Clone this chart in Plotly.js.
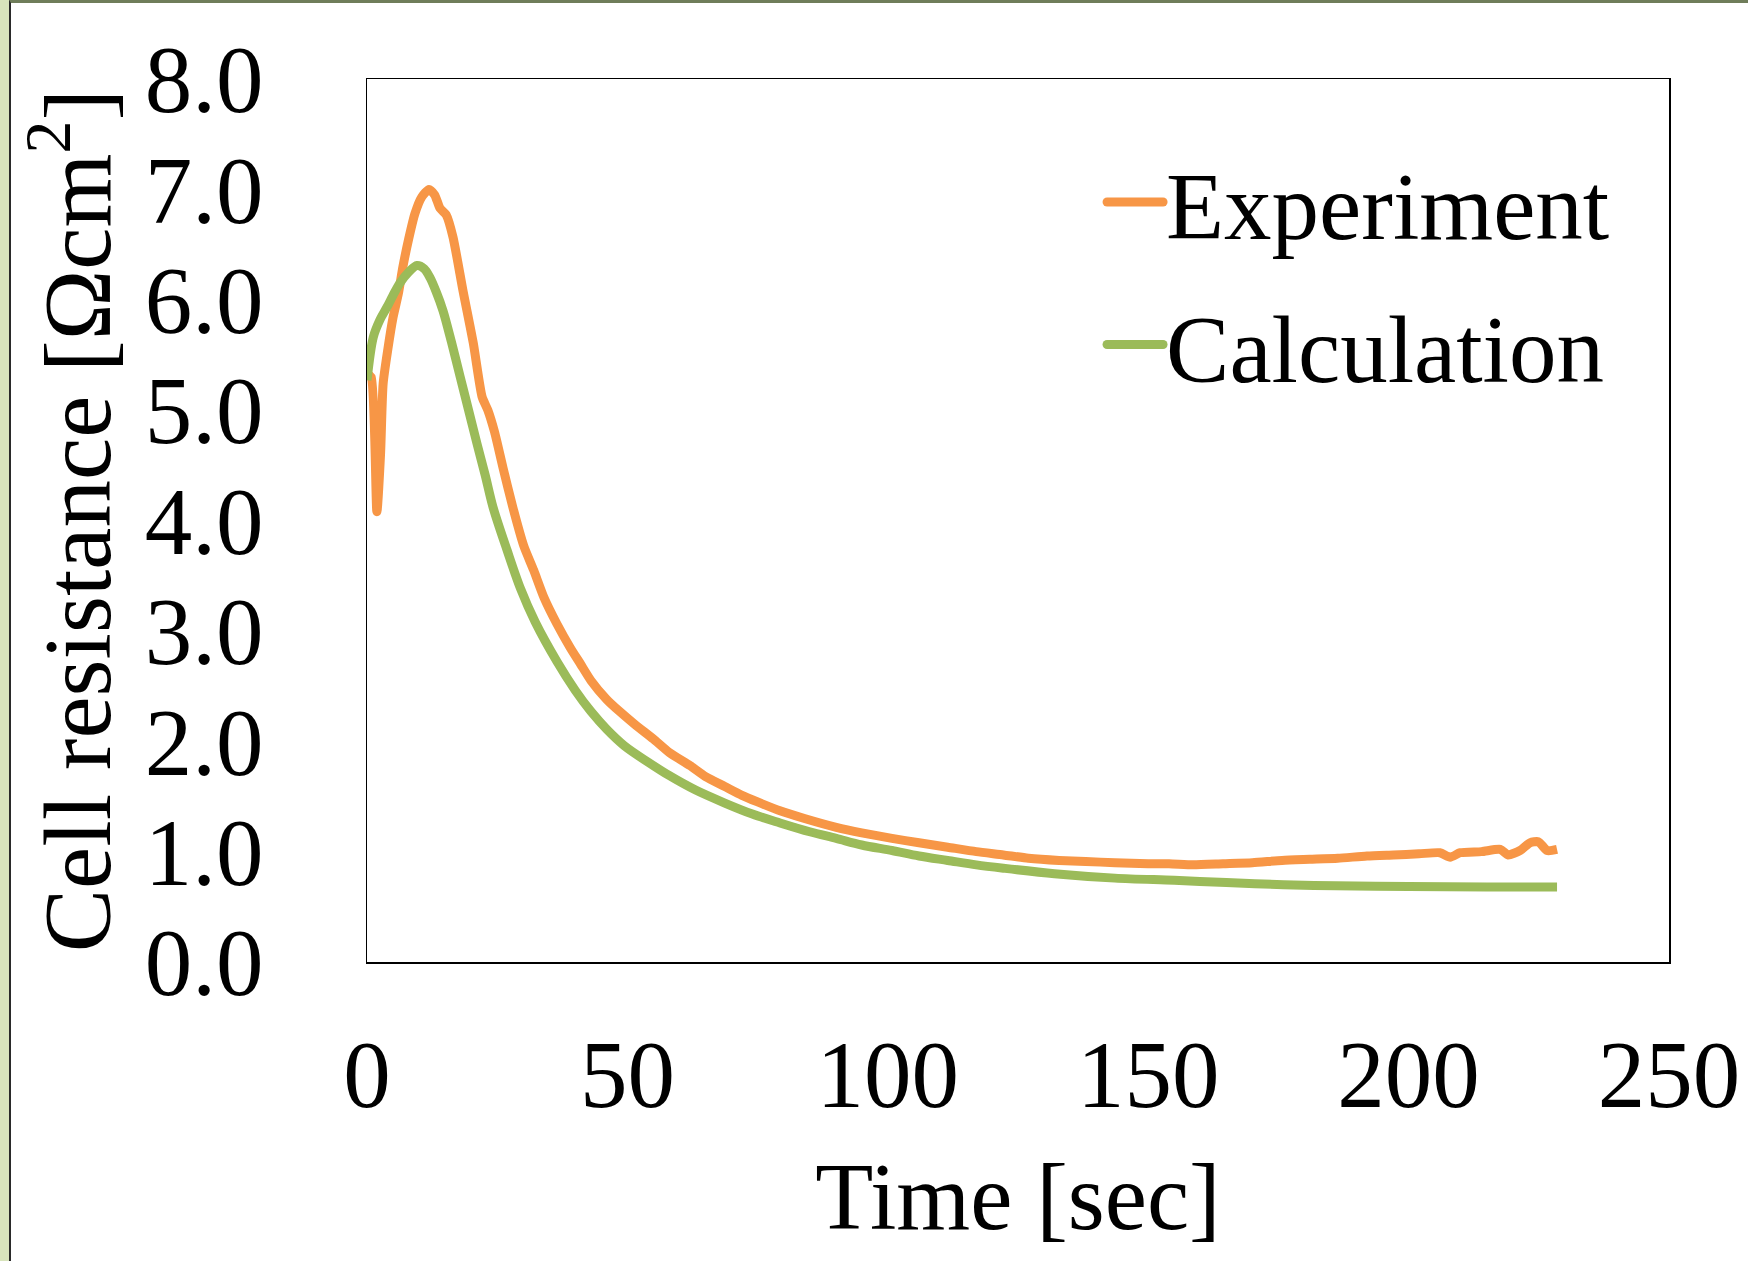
<!DOCTYPE html>
<html>
<head>
<meta charset="utf-8">
<script src="https://cdn.plot.ly/plotly-3.0.1.min.js"></script>
<style>
  html, body { margin: 0; padding: 0; background: #D8E4BC; width: 1748px; height: 1261px; overflow: hidden; }
  #frame { position: absolute; left: 9px; top: 0; width: 1737px; height: 1258px;
           border-left: 2px solid #2a2a2a; border-top: 3px solid #6f7d5a; background: #ffffff; }
  #chart { width: 1737px; height: 1258px; }
</style>
</head>
<body>
<div id="frame"><div id="chart"></div></div>
<script>
// Experiment (measured) cell resistance
const expTime = [0, 0.8, 1.9, 2.6, 3.1, 4.0, 5.0, 6.0, 6.9, 8.0, 9.2, 10.5, 11.9, 13.0, 14.0, 15.2, 16.5, 18.4, 20.4, 22.1, 23.2, 24.5, 26.1, 28, 30.1, 32, 34, 36.5, 39, 41, 43, 46, 48.5, 51.5, 55, 58, 62, 65, 68.7, 72, 75, 79.3, 84, 90.1, 95, 100.8, 106, 111.5, 117, 122.2, 127, 132.9, 138, 143.6, 150, 154, 158.6, 164.4, 170, 175.7, 181, 186.4, 192, 197.1, 202, 206, 208, 209.9, 214, 217.6, 219.1, 221.4, 223.3, 224.9, 226.6, 228.5];
const expRes  = [5.33, 5.30, 4.08, 4.60, 5.24, 5.55, 5.84, 6.05, 6.30, 6.55, 6.78, 6.93, 7.00, 6.95, 6.83, 6.77, 6.57, 6.09, 5.61, 5.12, 5.00, 4.80, 4.48, 4.12, 3.77, 3.55, 3.30, 3.06, 2.85, 2.70, 2.55, 2.38, 2.27, 2.15, 2.02, 1.90, 1.78, 1.68, 1.59, 1.51, 1.45, 1.37, 1.30, 1.22, 1.17, 1.12, 1.08, 1.04, 1.00, 0.97, 0.94, 0.92, 0.91, 0.90, 0.89, 0.89, 0.88, 0.89, 0.90, 0.92, 0.93, 0.94, 0.96, 0.97, 0.98, 0.99, 0.95, 0.99, 1.00, 1.02, 0.97, 1.01, 1.08, 1.09, 1.01, 1.02];

// Calculation (model) cell resistance
const calcTime = [0, 1.2, 2.5, 3.8, 5, 6.3, 8, 9.6, 11, 12.1, 13.3, 14.6, 16.2, 17.9, 19.5, 21.1, 22.7, 24.2, 26.9, 29.5, 32.3, 36.5, 40, 43, 46, 49.4, 54, 58, 63, 68.7, 74, 79.3, 85, 90.1, 95, 100.8, 106, 111.5, 117, 122.2, 132, 143.6, 155, 165, 176, 186, 200, 215, 228.5];
const calcRes  = [5.27, 5.66, 5.82, 5.93, 6.04, 6.15, 6.25, 6.31, 6.28, 6.20, 6.07, 5.90, 5.62, 5.30, 5.00, 4.70, 4.41, 4.12, 3.73, 3.38, 3.08, 2.72, 2.46, 2.27, 2.11, 1.96, 1.81, 1.69, 1.56, 1.44, 1.34, 1.26, 1.18, 1.12, 1.06, 1.01, 0.96, 0.92, 0.88, 0.85, 0.80, 0.76, 0.74, 0.72, 0.70, 0.69, 0.685, 0.68, 0.68];

const seriesNames = ['Experiment', 'Calculation'];
const xTicks = [0, 50, 100, 150, 200, 250];
const yTicks = [0, 1, 2, 3, 4, 5, 6, 7, 8];

const FONT = '"Liberation Serif", "Times New Roman", Times, serif';

const traces = [
  { x: expTime, y: expRes, name: seriesNames[0], type: 'scatter', mode: 'lines',
    legendgroup: 'a', line: { color: '#F79646', width: 9, shape: 'spline', smoothing: 0.6 } },
  { x: calcTime, y: calcRes, name: seriesNames[1], type: 'scatter', mode: 'lines',
    legendgroup: 'b', line: { color: '#9BBB59', width: 9, shape: 'spline', smoothing: 0.9 } }
];

const layout = {
  width: 1737, height: 1258,
  paper_bgcolor: '#ffffff', plot_bgcolor: '#ffffff',
  margin: { l: 356, r: 79, t: 76, b: 299, pad: 0 },
  font: { family: FONT, size: 95, color: '#000000' },
  showlegend: true,
  legend: { x: 0.583, y: 0.938, xanchor: 'left', yanchor: 'top', bgcolor: 'rgba(0,0,0,0)',
            font: { family: FONT, size: 95, color: '#000' }, tracegroupgap: 16, itemwidth: 30 },
  xaxis: {
    range: [0, 250], tickvals: xTicks, ticktext: xTicks.map(v => String(v)),
    showgrid: false, zeroline: false, showline: true, mirror: true,
    linecolor: '#000', linewidth: 1.5, ticks: '', ticklabelstandoff: 29,
    tickfont: { family: FONT, size: 95, color: '#000' },
    title: { text: 'Time [sec]', font: { family: FONT, size: 95, color: '#000' }, standoff: 36 }
  },
  yaxis: {
    range: [0, 8], tickvals: yTicks, ticktext: yTicks.map(v => v.toFixed(1)),
    showgrid: false, zeroline: false, showline: true, mirror: true,
    linecolor: '#000', linewidth: 1.5, ticks: '', ticklabelstandoff: 83,
    tickfont: { family: FONT, size: 95, color: '#000' },
    title: { text: 'Cell resistance [Ωcm<sup>2</sup>]', font: { family: FONT, size: 95, color: '#000' }, standoff: 37 }
  }
};

function widenLegendLines(gd) {
  // Excel-style longer legend line samples; let them extend past the legend box
  gd.querySelectorAll('.legend .scrollbox, .legend').forEach(el => el.removeAttribute('clip-path'));
  gd.querySelectorAll('.legend [clip-path]').forEach(el => el.removeAttribute('clip-path'));
  gd.querySelectorAll('.legend .legendlines path').forEach(p => {
    p.setAttribute('d', 'M-19,0h56');
    p.style.strokeLinecap = 'round';
  });
}

Plotly.newPlot('chart', traces, layout, { staticPlot: true, displayModeBar: false }).then(gd => {
  widenLegendLines(gd);
  gd.on('plotly_afterplot', () => widenLegendLines(gd));
});
</script>
</body>
</html>
